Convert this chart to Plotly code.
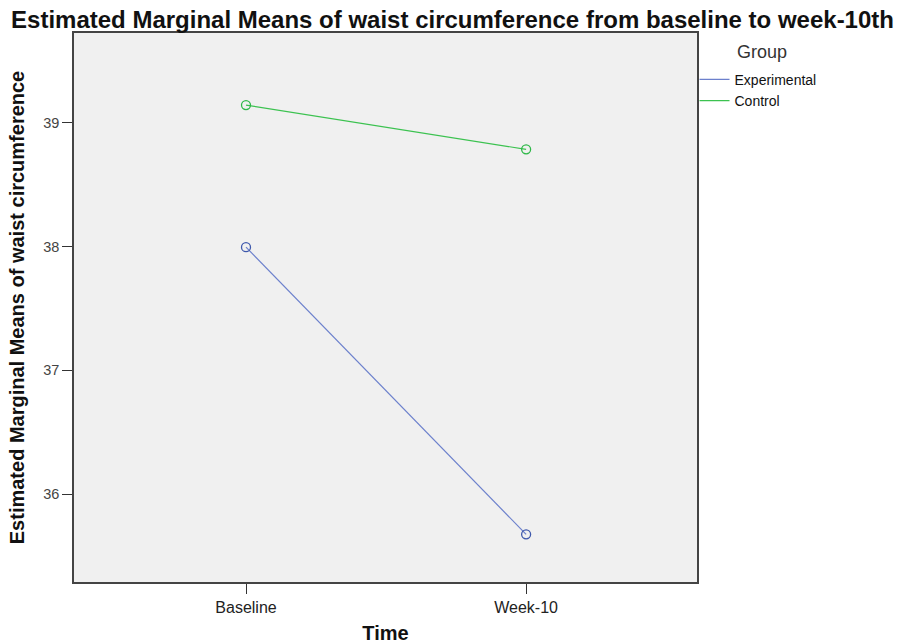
import plotly.graph_objects as go

time_labels = ["Baseline", "Week-10"]
time_pos = [0, 1]
experimental = [37.995, 35.675]
control = [39.143, 38.785]
groups = ["Experimental", "Control"]
line_colors = ["#6c80cc", "#3cc250"]
marker_colors = ["#3E58AC", "#2EB848"]
series = [experimental, control]

fig = go.Figure()
for name, vals, col in zip(groups, series, line_colors):
    fig.add_trace(go.Scatter(
        x=time_pos, y=vals, mode="lines", name=name,
        line=dict(color=col, width=1.2),
    ))
for name, vals, col in zip(groups, series, marker_colors):
    fig.add_trace(go.Scatter(
        x=time_pos, y=vals, mode="markers", name=name, showlegend=False,
        marker=dict(symbol="circle-open", size=9, color=col, line=dict(width=1.3)),
    ))

font = "Liberation Sans, Arial, sans-serif"
fig.update_layout(
    width=905, height=644,
    margin=dict(l=74, r=208, t=33, b=62, autoexpand=False),
    paper_bgcolor="white", plot_bgcolor="#f0f0f0",
    font=dict(family=font, color="#222222"),
    title=dict(text="<b>Estimated Marginal Means of waist circumference from baseline to week-10th</b>",
               x=0.5, xanchor="center", xref="container", y=0.956, yanchor="bottom",
               font=dict(size=24, color="#111111", family=font)),
    showlegend=True,
    legend=dict(x=0.996, xanchor="left", y=0.944, yanchor="top",
                font=dict(size=14, color="#111111", family=font),
                bgcolor="rgba(0,0,0,0)", tracegroupgap=0, itemwidth=30),
    xaxis=dict(range=[-0.614, 1.61], tickvals=time_pos, ticktext=time_labels,
               showgrid=False, zeroline=False, ticks="outside", ticklen=10,
               tickcolor="#333333", tickfont=dict(size=16, color="#222222"),
               showline=True, linecolor="#444444", linewidth=1.5, mirror=True,
               automargin=False,
               title=dict(text="<b>Time</b>", font=dict(size=20, color="#111111"), standoff=17)),
    yaxis=dict(range=[35.29, 39.725], tickvals=[36, 37, 38, 39],
               showgrid=False, zeroline=False, ticks="outside", ticklen=10,
               tickcolor="#333333", tickfont=dict(size=14.5, color="#444444"),
               showline=True, linecolor="#444444", linewidth=1.5, mirror=True,
               automargin=False,
               title=dict(text="<b>Estimated Marginal Means of waist circumference</b>",
                          font=dict(size=20, color="#111111"), standoff=13)),
)
fig.add_annotation(text="Group", xref="paper", yref="paper", x=1.061, y=0.987,
                   xanchor="left", yanchor="top", showarrow=False,
                   font=dict(size=18, color="#333333", family=font))

fig.write_html("out.html", config={"displayModeBar": False},
               post_script="document.body.style.margin='0';document.body.style.padding='0';")
